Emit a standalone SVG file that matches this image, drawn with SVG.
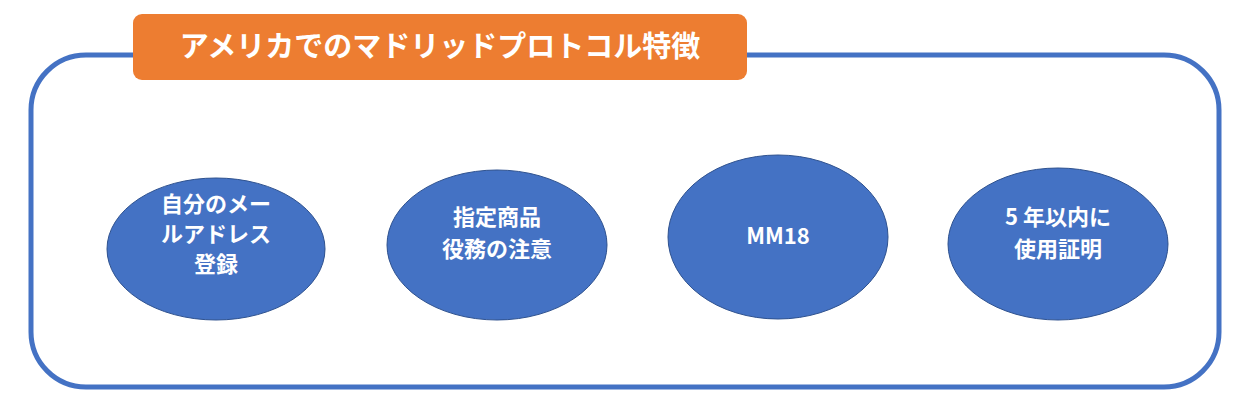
<svg xmlns="http://www.w3.org/2000/svg" width="1260" height="406" viewBox="0 0 1260 406">
<style>
.t{font-family:"Noto Sans CJK JP","Noto Sans",sans-serif;font-weight:bold;fill:#fff;text-anchor:middle}
.n{font-size:22px}
.e{fill:#4472C4;stroke:#2F528F;stroke-width:1}
</style>
<rect width="1260" height="406" fill="#fff"/>
<g id="frame"><rect x="31" y="55" width="1188" height="332" rx="55" fill="none" stroke="#4472C4" stroke-width="5"/></g>
<g id="title"><rect x="133" y="14" width="614" height="66" rx="9" fill="#ED7D31"/>
<text class="t" x="440" y="57" font-size="29">アメリカでのマドリッドプロトコル特徴</text></g>
<g id="connectors"></g>
<g id="n1"><ellipse class="e" cx="216" cy="249" rx="109" ry="71"/>
<text class="t n" x="216" y="212">自分のメー</text><text class="t n" x="216" y="242">ルアドレス</text><text class="t n" x="216" y="272">登録</text></g>
<g id="n2"><ellipse class="e" cx="497" cy="245" rx="110" ry="75"/>
<text class="t n" x="497" y="225">指定商品</text><text class="t n" x="497" y="257">役務の注意</text></g>
<g id="n3"><ellipse class="e" cx="778" cy="237" rx="110" ry="82"/>
<text class="t n" x="778" y="244">MM18</text></g>
<g id="n4"><ellipse class="e" cx="1058" cy="244" rx="110" ry="76"/>
<text class="t n" x="1058" y="225">5 年以内に</text><text class="t n" x="1058" y="257">使用証明</text></g>
</svg>
